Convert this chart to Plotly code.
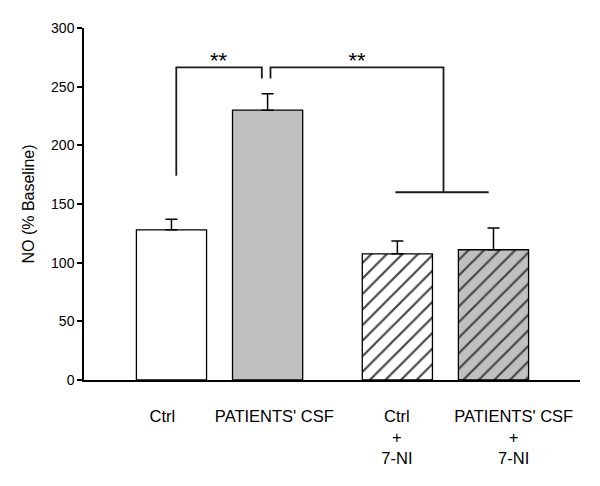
import plotly.graph_objects as go

# Data
labels = ["Ctrl", "PATIENTS' CSF", "Ctrl<br>+<br>7-NI", "PATIENTS' CSF<br>+<br>7-NI"]
positions = [1, 2, 3.35, 4.35]
label_positions = [0.905, 2.07, 3.345, 4.56]
values = [128, 230, 107.5, 111]
errors = [9, 14, 11, 18.5]
fills = ["white", "#c0c0c0", "white", "#c0c0c0"]
hatches = ["", "", "/", "/"]

# significance brackets (data units)
bracket1_x = [1.05, 1.05, 1.94, 1.94]
bracket1_y = [174, 266.5, 266.5, 257]
bracket2_x = [2.03, 2.03, 3.83, 3.83]
bracket2_y = [257, 266.5, 266.5, 160]
bracket2_base_x = [3.33, 4.30]
bracket2_base_y = [160, 160]
stars_x = [1.49, 2.93]
stars_y = [271, 271]
stars_text = ["**", "**"]

fig = go.Figure()
fig.add_trace(go.Bar(
    x=positions, y=values, width=0.73,
    marker=dict(
        color=fills,
        line=dict(color="black", width=1.3),
        pattern=dict(shape=hatches, fgcolor="black", fgopacity=1, bgcolor=fills,
                     size=11, solidity=0.2),
    ),
    error_y=dict(type="data", symmetric=False, array=errors, arrayminus=[0]*len(errors),
                 color="black", thickness=1.5, width=6),
    showlegend=False,
))

line_style = dict(color="#1a1a1a", width=1.8)
fig.add_trace(go.Scatter(x=bracket1_x, y=bracket1_y, mode="lines", line=line_style,
                         showlegend=False, hoverinfo="skip"))
fig.add_trace(go.Scatter(x=bracket2_x, y=bracket2_y, mode="lines", line=line_style,
                         showlegend=False, hoverinfo="skip"))
fig.add_trace(go.Scatter(x=bracket2_base_x, y=bracket2_base_y, mode="lines", line=line_style,
                         showlegend=False, hoverinfo="skip"))
fig.add_trace(go.Scatter(x=stars_x, y=stars_y, mode="text", text=stars_text,
                         textfont=dict(size=22, color="black", family="Liberation Sans, Arial"),
                         showlegend=False, hoverinfo="skip"))

fig.update_layout(
    width=592, height=478,
    margin=dict(l=76, r=20, t=16, b=106),
    paper_bgcolor="white", plot_bgcolor="white",
    font=dict(family="Liberation Sans, Arial", color="black"),
    xaxis=dict(
        range=[0.09, 5.25], tickvals=label_positions, ticktext=labels,
        showline=True, linecolor="black", linewidth=1.5, ticks="",
        showgrid=False, zeroline=False, tickfont=dict(size=16.5),
        ticklabelstandoff=20,
    ),
    yaxis=dict(
        range=[0, 300], tickvals=[0, 50, 100, 150, 200, 250, 300],
        showline=True, linecolor="black", linewidth=1.5, ticks="outside",
        ticklen=5, tickwidth=1.5, tickcolor="black",
        showgrid=False, zeroline=False, tickfont=dict(size=14),
        title=dict(text="NO (% Baseline)", font=dict(size=16), standoff=12),
    ),
)

fig.write_html("out.html")
